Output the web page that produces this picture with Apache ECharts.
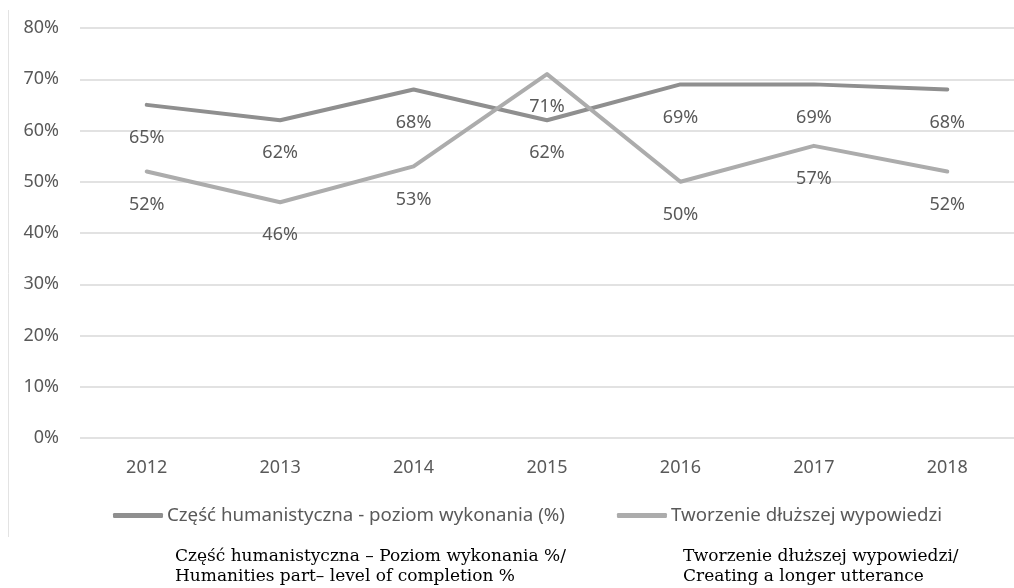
<!DOCTYPE html>
<html>
<head>
<meta charset="utf-8">
<script src="https://cdn.jsdelivr.net/npm/echarts@6/dist/echarts.min.js"></script>
<style>
  html, body { margin: 0; padding: 0; background: #fff; }
  #chart { width: 1014px; height: 588px; }
</style>
</head>
<body>
<div id="chart"></div>
<script>
// Years on the horizontal axis
const years = ['2012', '2013', '2014', '2015', '2016', '2017', '2018'];
// Humanities part – level of completion (%)
const humanities = [65, 62, 68, 62, 69, 69, 68];
// Creating a longer utterance (%)
const utterance = [52, 46, 53, 71, 50, 57, 52];
// Series names shown in the legend
const seriesNames = ['Część humanistyczna - poziom wykonania (%)', 'Tworzenie dłuższej wypowiedzi'];
// Captions printed under the chart
const captionLeft = 'Część humanistyczna – Poziom wykonania %/\nHumanities part– level of completion %';
const captionRight = 'Tworzenie dłuższej wypowiedzi/\nCreating a longer utterance';

const font = 'Noto Sans';
const textColor = '#595959';

const chart = echarts.init(document.getElementById('chart'));

function lineSeries(name, data, color) {
  return {
    name: name,
    type: 'line',
    data: data,
    showSymbol: true,
    symbol: 'circle',
    symbolSize: 0,
    lineStyle: { color: color, width: 4, cap: 'round', join: 'round' },
    itemStyle: { color: color },
    label: {
      show: true,
      position: 'bottom',
      distance: 24,
      color: textColor,
      fontFamily: font,
      fontSize: 18,
      formatter: p => p.value + '%'
    },
    labelLayout: { hideOverlap: false },
    emphasis: { disabled: true },
    z: 3
  };
}

chart.setOption({
  animation: false,
  backgroundColor: '#ffffff',
  grid: { left: 80, right: 0, top: 28, bottom: 150, containLabel: false },
  legend: {
    top: 506,
    left: 113,
    padding: 0,
    itemWidth: 50,
    itemHeight: 5,
    itemGap: 52,
    icon: 'roundRect',
    textStyle: { color: textColor, fontFamily: font, fontSize: 18.7, padding: [0, 0, 0, -1] },
    data: seriesNames
  },
  xAxis: {
    type: 'category',
    data: years,
    boundaryGap: true,
    axisLine: { show: false },
    axisTick: { show: false },
    axisLabel: { color: textColor, fontFamily: font, fontSize: 18, margin: 21 }
  },
  yAxis: {
    type: 'value',
    min: 0,
    max: 80,
    interval: 10,
    axisLine: { show: false },
    axisTick: { show: false },
    splitLine: { lineStyle: { color: '#d9d9d9', width: 1.5 } },
    axisLabel: {
      color: textColor, fontFamily: font, fontSize: 18, margin: 21,
      formatter: v => v + '%'
    }
  },
  series: [
    lineSeries(seriesNames[0], humanities, '#8f8f8f'),
    lineSeries(seriesNames[1], utterance, '#acacac')
  ],
  graphic: [
    {
      type: 'line',
      shape: { x1: 8.5, y1: 10, x2: 8.5, y2: 537 },
      style: { stroke: '#e3e3e3', lineWidth: 1 }
    },
    {
      type: 'text',
      left: 175,
      top: 547,
      style: {
        text: captionLeft,
        fill: '#000000',
        font: '17px "DejaVu Serif"',
        lineHeight: 20
      }
    },
    {
      type: 'text',
      left: 683,
      top: 547,
      style: {
        text: captionRight,
        fill: '#000000',
        font: '17px "DejaVu Serif"',
        lineHeight: 20
      }
    }
  ]
});
</script>
</body>
</html>
